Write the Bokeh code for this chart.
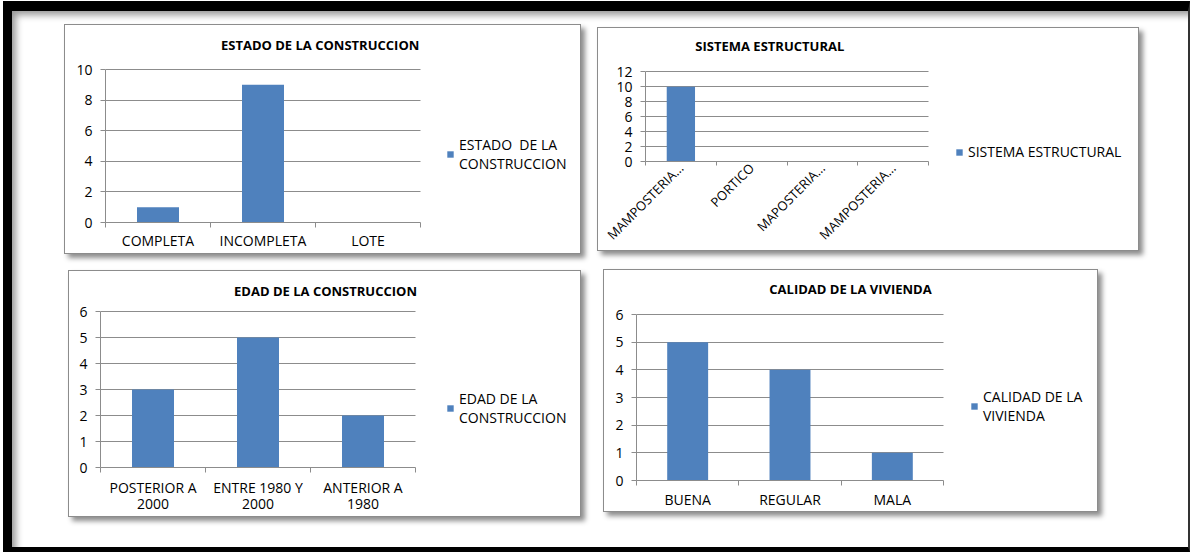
import math
from bokeh.plotting import figure
from bokeh.models import (Range1d, FixedTicker, Label, Legend, LegendItem, Spacer)
from bokeh.embed import file_html
from bokeh.resources import INLINE
from bokeh.core.properties import value

FONT = "Open Sans"
BAR = "#4F81BD"
GRID = "#8C8C8C"

# ---------------- data ----------------
estado_title = "ESTADO   DE LA CONSTRUCCION"
estado_cats = ["COMPLETA", "INCOMPLETA", "LOTE"]
estado_vals = [1, 9, 0]
estado_yticks = [0, 2, 4, 6, 8, 10]
estado_legend = "ESTADO  DE LA\nCONSTRUCCION"

sistema_title = "SISTEMA  ESTRUCTURAL"
sistema_cats = ["MAMPOSTERIA...", "PORTICO", "MAPOSTERIA...", "MAMPOSTERIA..."]
sistema_vals = [10, 0, 0, 0]
sistema_yticks = [0, 2, 4, 6, 8, 10, 12]
sistema_legend = "SISTEMA ESTRUCTURAL"

edad_title = "EDAD DE LA CONSTRUCCION"
edad_cats = ["POSTERIOR A\n2000", "ENTRE 1980 Y\n2000", "ANTERIOR A\n1980"]
edad_vals = [3, 5, 2]
edad_yticks = [0, 1, 2, 3, 4, 5, 6]
edad_legend = "EDAD DE LA\nCONSTRUCCION"

calidad_title = "CALIDAD DE LA VIVIENDA"
calidad_cats = ["BUENA", "REGULAR", "MALA"]
calidad_vals = [5, 4, 1]
calidad_yticks = [0, 1, 2, 3, 4, 5, 6]
calidad_legend = "CALIDAD DE LA\nVIVIENDA"


def make_panel(title, cats, vals, yticks, legend_label, g):
    """g holds the page-pixel layout of the panel (box, axis corner, plot-area
    extent, title centre, legend corner)."""
    n = len(cats)
    ymax = yticks[-1]
    centers = [i + 0.5 for i in range(n)]
    bounds = list(range(n + 1))

    px, py, pw, ph = g["box"]
    W, H = pw - 2, ph - 2                  # 1px css border on each side
    ox, oy = px + 1, py + 1
    bl = g["ax"] - ox                      # y-axis position inside canvas
    fh = g["ay"] - oy                      # frame reaches from canvas top to x-axis
    fw = W - bl
    x_end = n * fw / (g["dx"] - g["ax"])
    y_end = ymax * fh / (g["ay"] - g["dy"])

    p = figure(x_range=Range1d(0, x_end), y_range=Range1d(0, y_end),
               width=W, height=H,
               min_border_left=bl, min_border_right=0,
               min_border_top=0, min_border_bottom=H - fh,
               toolbar_location=None, output_backend="svg",
               background_fill_color="white", border_fill_color="white",
               outline_line_color=None,
               styles={"position": "absolute", "left": f"{px}px", "top": f"{py}px",
                       "border": "1px solid #8C8C8C",
                       "box-shadow": "4px 4px 5px rgba(0,0,0,0.45)"})

    r = p.vbar(x=centers, top=vals, width=0.4, fill_color=BAR, line_color=None)

    # y axis
    yax = p.yaxis[0]
    yax.ticker = FixedTicker(ticks=yticks)
    yax.bounds = (0, ymax)
    yax.axis_line_color = GRID
    yax.major_tick_line_color = GRID
    yax.major_tick_out = 5
    yax.major_tick_in = 0
    yax.minor_tick_line_color = None
    yax.major_label_standoff = 8
    yax.major_label_text_font = FONT
    yax.major_label_text_font_size = "14px"
    yax.major_label_text_color = "black"
    p.ygrid.ticker = FixedTicker(ticks=yticks)
    p.ygrid.cross_bounds = (0, n)
    p.ygrid.grid_line_color = GRID
    p.xgrid.grid_line_color = None

    # x axis: labels at slot centres, tick marks at slot boundaries
    xax = p.xaxis[0]
    xax.ticker = FixedTicker(ticks=centers, minor_ticks=bounds)
    xax.bounds = (0, n)
    xax.major_label_overrides = {c: lab for c, lab in zip(centers, cats)}
    xax.axis_line_color = GRID
    xax.major_tick_line_color = None
    xax.major_tick_out = 0
    xax.major_tick_in = 0
    xax.minor_tick_line_color = GRID
    xax.minor_tick_out = g.get("tick", 5)
    xax.minor_tick_in = 0
    xax.major_label_standoff = g["xs"]
    xax.major_label_text_font = FONT
    xax.major_label_text_font_size = g.get("xfs", "14px")
    xax.major_label_text_line_height = g.get("xlh", 1.2)
    xax.major_label_text_color = "black"
    if g.get("rot"):
        xax.major_label_orientation = math.pi / 4

    # title (inside the enlarged frame)
    p.add_layout(Label(x=g["tx"] - g["ax"], y=g["ay"] - g["ty"],
                       x_units="screen", y_units="screen", text=title,
                       text_align="center", text_baseline="middle",
                       text_font=FONT, text_font_style="bold",
                       text_font_size="13px", text_color="black"))

    # legend
    leg = Legend(items=[LegendItem(label=value(legend_label), renderers=[r])],
                 location=(g["lx"] - g["ax"], g["ay"] - g["ly"] - g["lh"]),
                 border_line_color=None, background_fill_alpha=0,
                 padding=0, margin=0, spacing=0,
                 glyph_width=8, glyph_height=8, label_standoff=5, label_height=8,
                 label_text_font=FONT, label_text_font_size="14px",
                 label_text_line_height=0.9,
                 label_text_color="black")
    p.add_layout(leg)
    return p


g1 = dict(box=(64, 24, 519, 232), ax=105, ay=222, dy=69, dx=420, tx=323, ty=44,
          lx=446, ly=139, lh=34, xs=3)
g2 = dict(box=(597, 27, 544, 226), ax=645, ay=163, dy=72, dx=928, tx=771, ty=47,
          lx=955, ly=145, lh=18, xs=0, rot=True, xfs="13px", xlh=0.9, tick=4)
g3 = dict(box=(68, 270, 515, 249), ax=100, ay=467, dy=311, dx=415, tx=325, ty=290,
          lx=446, ly=393, lh=34, xs=5, xlh=0.85)
g4 = dict(box=(603, 269, 497, 245), ax=636, ay=480, dy=314, dx=943, tx=850, ty=288,
          lx=970, ly=391, lh=34, xs=4)

p1 = make_panel(estado_title, estado_cats, estado_vals, estado_yticks, estado_legend, g1)
p2 = make_panel(sistema_title, sistema_cats, sistema_vals, sistema_yticks, sistema_legend, g2)
p3 = make_panel(edad_title, edad_cats, edad_vals, edad_yticks, edad_legend, g3)
p4 = make_panel(calidad_title, calidad_cats, calidad_vals, calidad_yticks, calidad_legend, g4)

frame = Spacer(width=1187, height=551,
               styles={"position": "absolute", "left": "3px", "top": "1px",
                       "background": "white",
                       "border-top": "10px solid black", "border-left": "9px solid black",
                       "border-right": "2px solid #333333", "border-bottom": "5px solid black",
                       "box-shadow": "inset 7px 7px 7px -3px #999999"})

open("out.html", "w").write(file_html([frame, p1, p2, p3, p4], INLINE))
